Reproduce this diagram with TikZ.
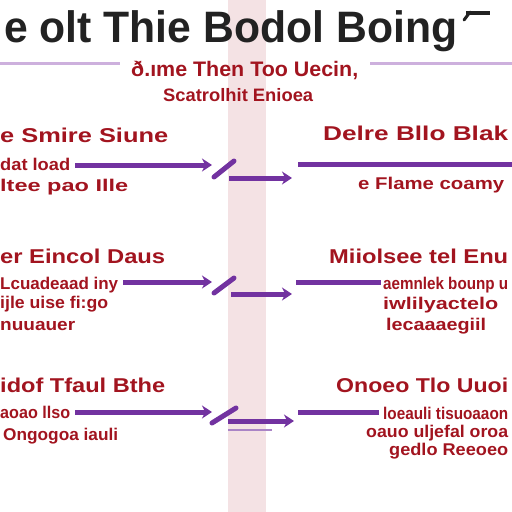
\documentclass[tikz,border=0pt]{standalone}
\usepackage{fontspec}
\setmainfont{Liberation Sans}
\usetikzlibrary{arrows.meta}
\definecolor{rd}{HTML}{A2141F}
\definecolor{pp}{HTML}{7232A0}
\definecolor{lp}{HTML}{CDB0DD}
\definecolor{band}{HTML}{F4E2E4}
\definecolor{ttl}{HTML}{222222}
\newcommand{\fw}[2]{\resizebox{#1pt}{\height}{#2}}
\begin{document}
\begin{tikzpicture}[x=1pt,y=-1pt,
 txt/.style={inner sep=0pt,anchor=base west,text=rd,font=\bfseries\fontsize{17}{17}\selectfont},
 hd/.style={txt,font=\bfseries\fontsize{20}{20}\selectfont},
 sub/.style={txt,font=\bfseries\fontsize{20}{20}\selectfont},
 arr/.style={draw=pp,line width=5pt,-{Stealth[length=10pt,width=13pt]}},
 bar/.style={draw=pp,line width=5pt},
 slash/.style={draw=pp,line width=5pt,line cap=round},
 topline/.style={draw=lp,line width=3pt},
]
\useasboundingbox (0,0) rectangle (512,512);
\fill[white] (0,0) rectangle (512,512);
\fill[band] (228,0) rectangle (266,512);

% title
\node[inner sep=0pt,anchor=base west,text=ttl,font=\bfseries\fontsize{44}{44}\selectfont] (title) at (4,42) {\fw{453}{e olt Thie Bodol Boing}};
\draw[ttl,line width=3.5pt] (466,13) -- (490,13);
\draw[ttl,line width=3pt,line cap=round] (470,12) -- (464,20);

% top lines
\draw[topline] (0,63) -- (120,63);
\draw[topline] (370,63) -- (512,63);

% subtitle
\node[sub,font=\bfseries\fontsize{21}{21}\selectfont] (sub1) at (131,76) {\fw{227}{ð.ıme Then Too Uecin,}};
\node[sub,font=\bfseries\fontsize{18}{18}\selectfont] (sub2) at (163,101) {\fw{150}{Scatrolhit Enioea}};

% ---- row 1
\node[hd] (h1l) at (0,142) {\fw{168}{e Smire Siune}};
\node[txt] (t1a) at (0,170) {\fw{70}{dat load}};
\node[txt] (t1b) at (0,191) {\fw{128}{ltee pao Ille}};
\coordinate (a1s) at (75,165); \coordinate (a1e) at (212,165);
\draw[arr] (a1s) -- (a1e);
\coordinate (s1a) at (214,177); \coordinate (s1b) at (234,161);
\draw[slash] (s1a) -- (s1b);
\coordinate (l1a) at (229,178); \coordinate (l1b) at (292,178);
\draw[arr] (l1a) -- (l1b);
\node[hd] (h1r) at (323,140) {\fw{185}{Delre Bllo Blak}};
\coordinate (b1a) at (298,164); \coordinate (b1b) at (512,164);
\draw[bar] (b1a) -- (b1b);
\node[txt] (t1r) at (358,189) {\fw{146}{e Flame coamy}};

% ---- row 2
\node[hd] (h2l) at (0,263) {\fw{165}{er Eincol Daus}};
\node[txt] (t2a) at (0,289) {\fw{118}{Lcuadeaad iny}};
\node[txt] (t2b) at (0,308) {\fw{108}{ijle uise fi:go}};
\node[txt] (t2c) at (0,330) {\fw{75}{nuuauer}};
\coordinate (a2s) at (123,282); \coordinate (a2e) at (212,282);
\draw[arr] (a2s) -- (a2e);
\coordinate (s2a) at (214,293); \coordinate (s2b) at (234,278);
\draw[slash] (s2a) -- (s2b);
\coordinate (l2a) at (231,294); \coordinate (l2b) at (292,294);
\draw[arr] (l2a) -- (l2b);
\node[hd] (h2r) at (329,263) {\fw{179}{Miiolsee tel Enu}};
\coordinate (b2a) at (296,282); \coordinate (b2b) at (381,282);
\draw[bar] (b2a) -- (b2b);
\node[txt] (t2r1) at (383,289) {\fw{125}{aemnlek bounp u}};
\node[txt] (t2r2) at (383,309) {\fw{115}{iwlilyactelo}};
\node[txt] (t2r3) at (386,330) {\fw{100}{lecaaaegiil}};

% ---- row 3
\node[hd] (h3l) at (0,392) {\fw{165}{idof Tfaul Bthe}};
\node[txt] (t3a) at (0,418) {\fw{70}{aoao llso}};
\node[txt] (t3b) at (3,440) {\fw{115}{Ongogoa iauli}};
\coordinate (a3s) at (75,412); \coordinate (a3e) at (212,412);
\draw[arr] (a3s) -- (a3e);
\coordinate (s3a) at (212,423); \coordinate (s3b) at (236,408);
\draw[slash] (s3a) -- (s3b);
\coordinate (l3a) at (228,421); \coordinate (l3b) at (294,421);
\draw[arr] (l3a) -- (l3b);
\coordinate (m3a) at (228,430); \coordinate (m3b) at (272,430);
\draw[pp!60,line width=1.2pt] (m3a) -- (m3b);
\node[hd] (h3r) at (336,392) {\fw{172}{Onoeo Tlo Uuoi}};
\coordinate (b3a) at (298,412); \coordinate (b3b) at (379,412);
\draw[bar] (b3a) -- (b3b);
\node[txt] (t3r1) at (383,419) {\fw{125}{loeauli tisuoaaon}};
\node[txt] (t3r2) at (366,437) {\fw{142}{oauo uljefal oroa}};
\node[txt] (t3r3) at (389,455) {\fw{119}{gedlo Reeoeo}};
\end{tikzpicture}
\end{document}
